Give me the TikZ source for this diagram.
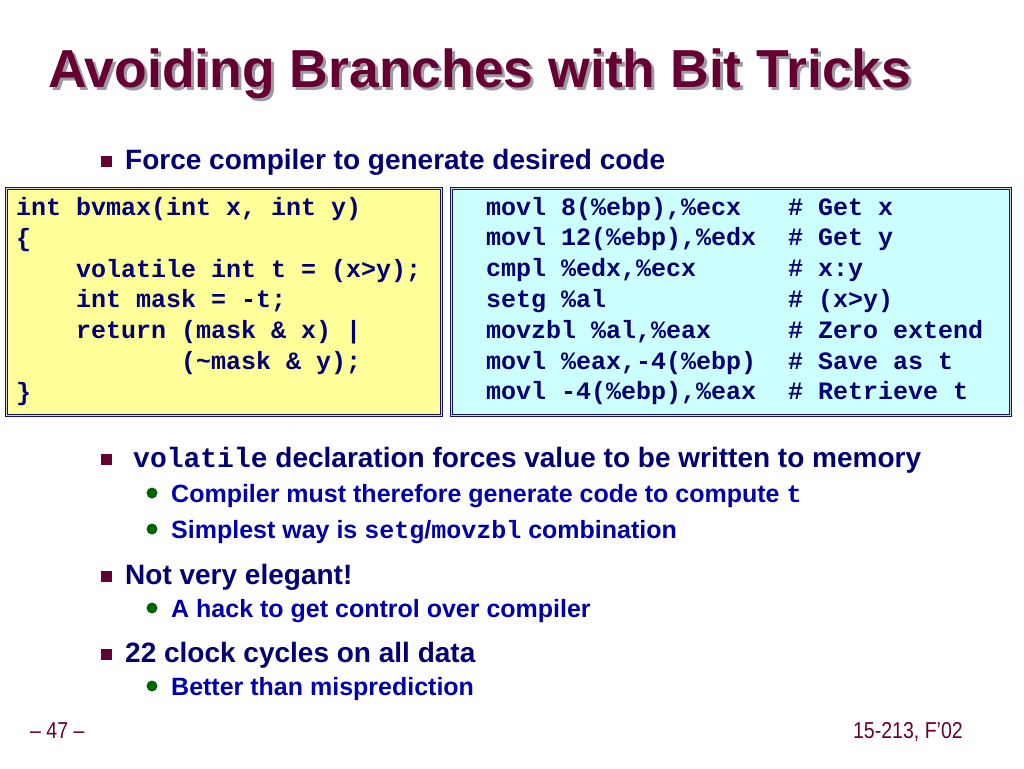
\documentclass[tikz,border=0pt]{standalone}
\usepackage{fontspec}
\setmainfont{Liberation Sans}
\setmonofont{Liberation Mono}
\newfontfamily\footfont[FakeStretch=0.85]{Liberation Sans}
\usepackage{xcolor}
\definecolor{slidemaroon}{RGB}{102,0,51}
\definecolor{slidenavy}{RGB}{0,0,115}
\definecolor{subblue}{RGB}{0,0,170}
\definecolor{bulletgreen}{RGB}{0,100,0}
\definecolor{codeyellow}{RGB}{255,255,153}
\definecolor{codecyan}{RGB}{204,255,255}
\definecolor{boxline}{RGB}{20,20,100}
\definecolor{shadowgray}{RGB}{155,155,165}

\tikzset{
	txt/.style={inner sep=0pt, anchor=base west},
	bodytext/.style={txt, text=slidenavy, font=\bfseries\fontsize{28}{32}\selectfont},
	subtext/.style={txt, text=subblue, font=\bfseries\fontsize{25}{29}\selectfont},
	code/.style={txt, text=slidenavy, font=\ttfamily\bfseries\fontsize{25}{30}\selectfont},
	sqbullet/.style={fill=slidemaroon, minimum size=11pt, inner sep=0pt},
	dotbullet/.style={circle, fill=bulletgreen, minimum size=11pt, inner sep=0pt},
	codebox/.style={draw=boxline, double=gray!30, line width=1.1pt, double distance=1.6pt}
}

\begin{document}
\begin{tikzpicture}[x=1pt,y=-1pt]
	\useasboundingbox[fill=white] (0,0) rectangle (1024,768);

	% title with its shadow
	\node[txt, text=shadowgray, font=\bfseries\fontsize{53.5}{60}\selectfont] (titleshadow) at (51,90) {Avoiding Branches with Bit Tricks};
	\node[txt, text=slidemaroon, font=\bfseries\fontsize{53.5}{60}\selectfont] (title) at (48,87) {Avoiding Branches with Bit Tricks};

	\node[sqbullet] (b1) at (106,161) {};
	\node[bodytext] (force) at (125,169) {Force compiler to generate desired code};

	% code boxes
	\draw[codebox, fill=codeyellow] (6.5,188.5) rectangle (441.5,415.5);
	\draw[codebox, fill=codecyan] (451.5,188.5) rectangle (1010.5,415.5);

	\node[code] (c1) at (16,215) {int bvmax(int x, int y)};
	\node[code] (c2) at (16,246) {\{};
	\node[code] (c3) at (76,277) {volatile int t = (x>y);};
	\node[code] (c4) at (76,307) {int mask = -t;};
	\node[code] (c5) at (76,338) {return (mask \& x) |};
	\node[code] (c6) at (181,369) {(\textasciitilde mask \& y);};
	\node[code] (c7) at (16,400) {\}};

	\foreach \ins/\cmt [count=\i] in {{movl 8(\%ebp),\%ecx}/{Get x},
		{movl 12(\%ebp),\%edx}/{Get y}, {cmpl \%edx,\%ecx}/{x:y},
		{setg \%al}/{(x>y)}, {movzbl \%al,\%eax}/{Zero extend},
		{movl \%eax,-4(\%ebp)}/{Save as t}, {movl -4(\%ebp),\%eax}/{Retrieve t}}
	{
		\node[code] (a\i) at (486,{215+30.8*(\i-1)}) {\ins};
		\node[code] (h\i) at (788,{215+30.8*(\i-1)}) {\# \cmt};
	}

	% bullet list
	\node[sqbullet] (b2) at (106,459) {};
	\node[bodytext] (vol) at (133,467) {\texttt{volatile} declaration forces value to be written to memory};
	\node[dotbullet] (d1) at (152,493) {};
	\node[subtext] (s1) at (171,502) {Compiler must therefore generate code to compute \texttt{t}};
	\node[dotbullet] (d2) at (152,529) {};
	\node[subtext] (s2) at (171,538) {Simplest way is \texttt{setg}/\texttt{movzbl} combination};

	\node[sqbullet] (b3) at (106,576) {};
	\node[bodytext] (elegant) at (125,584) {Not very elegant!};
	\node[dotbullet] (d3) at (152,608) {};
	\node[subtext] (s3) at (171,617) {A hack to get control over compiler};

	\node[sqbullet] (b4) at (106,654) {};
	\node[bodytext] (cycles) at (125,662) {22 clock cycles on all data};
	\node[dotbullet] (d4) at (152,686) {};
	\node[subtext] (s4) at (171,695) {Better than misprediction};

	% footer
	\node[txt, text=slidemaroon, font=\footfont\fontsize{23}{26}\selectfont] (page) at (30,738) {– 47 –};
	\node[txt, anchor=base east, text=slidemaroon, font=\footfont\fontsize{23}{26}\selectfont] (course) at (963,738) {15-213, F’02};
\end{tikzpicture}
\end{document}
